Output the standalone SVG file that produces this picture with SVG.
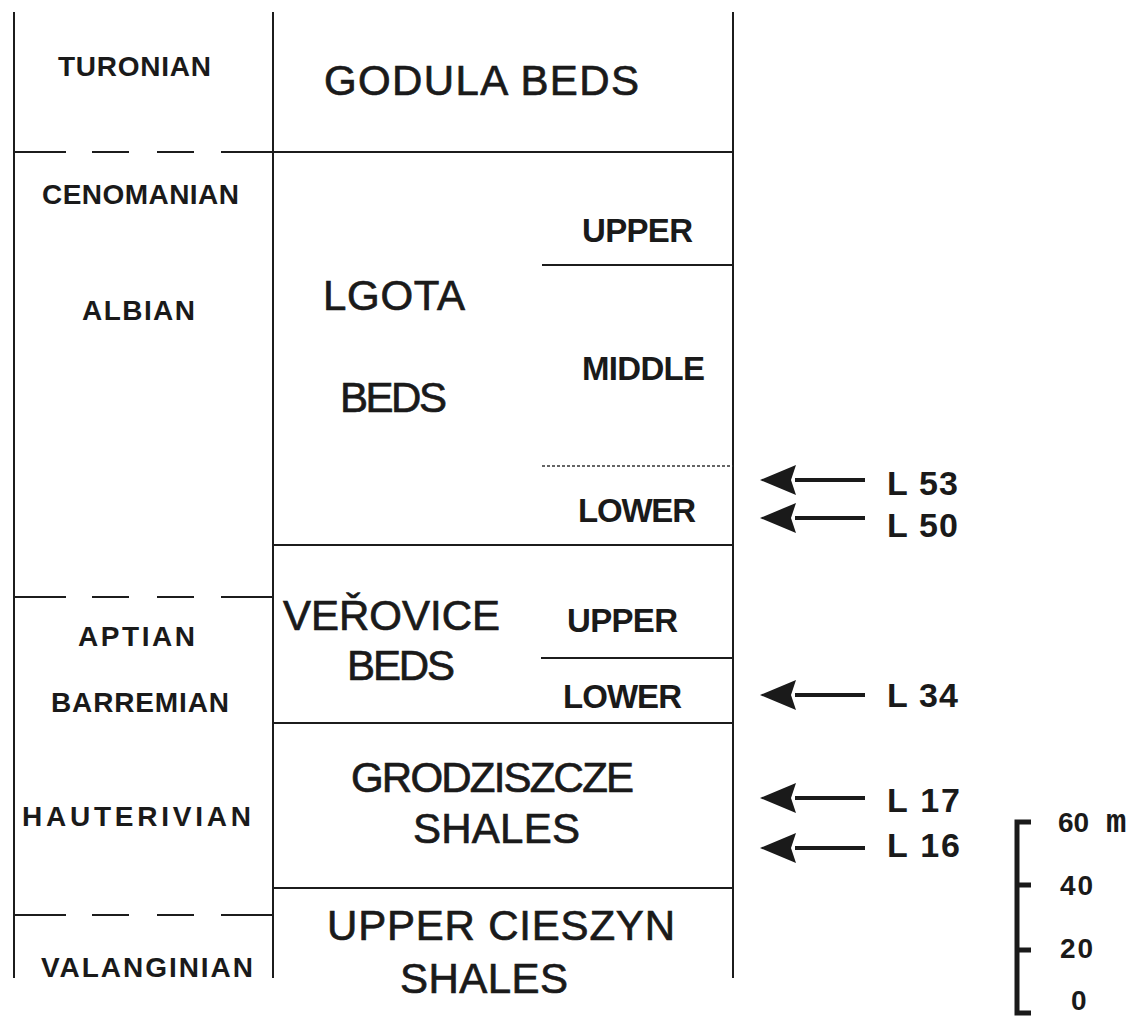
<svg xmlns="http://www.w3.org/2000/svg" width="1142" height="1020" viewBox="0 0 1142 1020">
<defs>
<style>
.ln{stroke:#1c1c1c;stroke-width:2;fill:none}
.dot{stroke:#333;stroke-width:1.5;stroke-dasharray:3 2;fill:none}
.sm{font-family:"Liberation Sans",Arial,sans-serif;font-weight:bold;font-size:28px;fill:#1a1a1a}
.sub{font-family:"Liberation Sans",Arial,sans-serif;font-weight:bold;font-size:33px;fill:#1a1a1a}
.big{font-family:"Liberation Sans",Arial,sans-serif;font-size:42px;fill:#1a1a1a;stroke:#1a1a1a;stroke-width:0.7}
.lab{font-family:"Liberation Sans",Arial,sans-serif;font-weight:bold;font-size:34px;fill:#1a1a1a}
.sc{font-family:"Liberation Sans",Arial,sans-serif;font-weight:bold;font-size:28px;fill:#1a1a1a}
.arr{stroke:#1a1a1a;stroke-width:4;fill:none}
</style>
<marker id="ah" markerUnits="userSpaceOnUse" markerWidth="36" markerHeight="30" viewBox="0 0 36 30" refX="1" refY="15" orient="auto">
<path d="M0,0 L36,15 L0,30 L5,15 Z" fill="#1a1a1a"/>
</marker>
</defs>
<rect width="1142" height="1020" fill="#fff"/>

<g id="frame">
<path class="ln" d="M14,12 V978 M273,12 V978 M733,12 V978"/>
<path class="ln" d="M14,152 H66 M92,152 H129 M157,152 H194 M221,152 H273 M273,152 H733"/>
<path class="ln" d="M542,265 H733"/>
<path class="dot" d="M542,466 H733"/>
<path class="ln" d="M273,545 H733"/>
<path class="ln" d="M14,597 H66 M92,597 H129 M157,597 H194 M221,597 H273"/>
<path class="ln" d="M541,658 H733"/>
<path class="ln" d="M273,723 H733"/>
<path class="ln" d="M273,888 H733"/>
<path class="ln" d="M14,915 H66 M92,915 H129 M157,915 H194 M221,915 H273"/>
</g>

<g id="stage-turonian"><text class="sm" x="58" y="76" textLength="153" lengthAdjust="spacing">TURONIAN</text></g>
<g id="stage-cenomanian"><text class="sm" x="42" y="204" textLength="197" lengthAdjust="spacing">CENOMANIAN</text></g>
<g id="stage-albian"><text class="sm" x="82" y="320" textLength="113" lengthAdjust="spacing">ALBIAN</text></g>
<g id="stage-aptian"><text class="sm" x="78" y="646" textLength="117" lengthAdjust="spacing">APTIAN</text></g>
<g id="stage-barremian"><text class="sm" x="51" y="712" textLength="178" lengthAdjust="spacing">BARREMIAN</text></g>
<g id="stage-hauterivian"><text class="sm" x="22" y="826" textLength="229" lengthAdjust="spacing">HAUTERIVIAN</text></g>
<g id="stage-valanginian"><text class="sm" x="41" y="977" textLength="212" lengthAdjust="spacing">VALANGINIAN</text></g>

<g id="godula-beds"><text class="big" x="324" y="95" textLength="315" lengthAdjust="spacing">GODULA BEDS</text></g>
<g id="lgota-beds">
<text class="big" x="323" y="310" textLength="142" lengthAdjust="spacing">LGOTA</text>
<text class="big" x="340" y="412" textLength="107" lengthAdjust="spacing">BEDS</text>
</g>
<g id="lgota-upper"><text class="sub" x="582" y="242" textLength="111" lengthAdjust="spacing">UPPER</text></g>
<g id="lgota-middle"><text class="sub" x="582" y="380" textLength="123" lengthAdjust="spacing">MIDDLE</text></g>
<g id="lgota-lower"><text class="sub" x="578" y="522" textLength="118" lengthAdjust="spacing">LOWER</text></g>
<g id="verovice-beds">
<text class="big" x="283" y="630" textLength="217" lengthAdjust="spacing">VEŘOVICE</text>
<text class="big" x="347" y="680" textLength="108" lengthAdjust="spacing">BEDS</text>
</g>
<g id="verovice-upper"><text class="sub" x="567" y="632" textLength="111" lengthAdjust="spacing">UPPER</text></g>
<g id="verovice-lower"><text class="sub" x="563" y="708" textLength="119" lengthAdjust="spacing">LOWER</text></g>
<g id="grodziszcze-shales">
<text class="big" x="351" y="792" textLength="283" lengthAdjust="spacing">GRODZISZCZE</text>
<text class="big" x="413" y="843" textLength="167" lengthAdjust="spacing">SHALES</text>
</g>
<g id="upper-cieszyn-shales">
<text class="big" x="327" y="940" textLength="348" lengthAdjust="spacing">UPPER CIESZYN</text>
<text class="big" x="400" y="993" textLength="168" lengthAdjust="spacing">SHALES</text>
</g>

<g id="connectors">
<line class="arr" x1="865" y1="480" x2="795" y2="480" marker-end="url(#ah)"/>
<line class="arr" x1="865" y1="518" x2="795" y2="518" marker-end="url(#ah)"/>
<line class="arr" x1="865" y1="695" x2="795" y2="695" marker-end="url(#ah)"/>
<line class="arr" x1="865" y1="798" x2="795" y2="798" marker-end="url(#ah)"/>
<line class="arr" x1="865" y1="848" x2="795" y2="848" marker-end="url(#ah)"/>
</g>

<g id="sample-L53"><text class="lab" x="887" y="495" textLength="71" lengthAdjust="spacing">L 53</text></g>
<g id="sample-L50"><text class="lab" x="887" y="537" textLength="71" lengthAdjust="spacing">L 50</text></g>
<g id="sample-L34"><text class="lab" x="887" y="707" textLength="71" lengthAdjust="spacing">L 34</text></g>
<g id="sample-L17"><text class="lab" x="887" y="812" textLength="73" lengthAdjust="spacing">L 17</text></g>
<g id="sample-L16"><text class="lab" x="887" y="857" textLength="73" lengthAdjust="spacing">L 16</text></g>

<g id="scale-bar">
<path d="M1031,822 H1017 V1013 H1031 M1017,885 H1031 M1017,950 H1031" stroke="#1a1a1a" stroke-width="5" fill="none"/>
<text class="sc" x="1058" y="832">60<tspan x="1106" font-family="'Liberation Mono',monospace" font-weight="bold" font-size="34">m</tspan></text>
<text class="sc" x="1060" y="895" textLength="33" lengthAdjust="spacing">40</text>
<text class="sc" x="1060" y="958" textLength="33" lengthAdjust="spacing">20</text>
<text class="sc" x="1071" y="1010" font-size="22">0</text>
</g>
</svg>
